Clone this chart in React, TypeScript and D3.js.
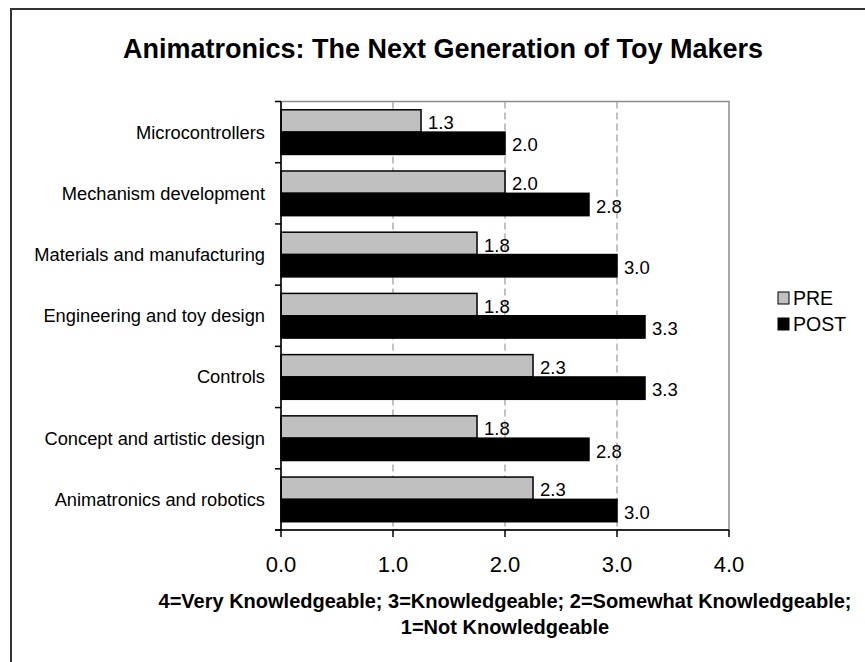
import React from "react";
import * as d3 from "d3";

const categories = [
  "Microcontrollers",
  "Mechanism development",
  "Materials and manufacturing",
  "Engineering and toy design",
  "Controls",
  "Concept and artistic design",
  "Animatronics and robotics",
];
const preValues = [1.25, 2.0, 1.75, 1.75, 2.25, 1.75, 2.25];
const postValues = [2.0, 2.75, 3.0, 3.25, 3.25, 2.75, 3.0];
const seriesNames = ["PRE", "POST"];
const xTicks = [0, 1, 2, 3, 4];
const title = "Animatronics: The Next Generation of Toy Makers";
const footnote = [
  "4=Very Knowledgeable; 3=Knowledgeable; 2=Somewhat Knowledgeable;",
  "1=Not Knowledgeable",
];

const W = 865;
const H = 662;
const plot = { left: 281, right: 729, top: 101.5, bottom: 530 };
const FONT = "Arial, 'Liberation Sans', Helvetica, sans-serif";

export default function App() {
  const x = d3.scaleLinear().domain([0, 4]).range([plot.left, plot.right]);
  const y = d3
    .scaleBand<string>()
    .domain(categories)
    .range([plot.top, plot.bottom])
    .paddingInner(0)
    .paddingOuter(0);
  const band = y.bandwidth();
  const inner = d3
    .scaleBand<string>()
    .domain(seriesNames)
    .range([0, band])
    .paddingInner(0)
    .paddingOuter(0.37);
  const barH = inner.bandwidth();
  const fmt = d3.format(".1f");
  const fills: Record<string, string> = { PRE: "#c0c0c0", POST: "#000000" };

  return (
    <svg
      width={W}
      height={H}
      style={{ position: "absolute", left: 0, top: 0, background: "#fff" }}
      fontFamily={FONT}
    >
      <rect x={11} y={9} width={W + 20} height={H + 20} fill="#fff" stroke="#333" strokeWidth={2} />
      <text x={443} y={58} textAnchor="middle" fontSize={27} fontWeight="bold">
        {title}
      </text>
      {/* plot border */}
      <rect
        x={plot.left}
        y={plot.top}
        width={plot.right - plot.left}
        height={plot.bottom - plot.top}
        fill="none"
        stroke="#8c8c8c"
        strokeWidth={1.5}
      />
      {/* gridlines */}
      {xTicks
        .filter((t) => t > 0 && t < 4)
        .map((t) => (
          <line
            key={"g" + t}
            x1={x(t)}
            x2={x(t)}
            y1={plot.top}
            y2={plot.bottom}
            stroke="#999"
            strokeWidth={1.2}
            strokeDasharray="7,4"
          />
        ))}
      {/* bars */}
      {categories.map((c, i) => {
        const y0 = y(c)!;
        const vals = [preValues[i], postValues[i]];
        return (
          <g key={c}>
            {seriesNames.map((s, j) => {
              const by = y0 + inner(s)!;
              const v = vals[j];
              return (
                <g key={s}>
                  <rect
                    x={x(0)}
                    y={by}
                    width={x(v) - x(0)}
                    height={barH}
                    fill={fills[s]}
                    stroke="#000"
                    strokeWidth={1.5}
                  />
                  <text x={x(v) + 7} y={by + barH - 3} fontSize={18.5}>
                    {fmt(v)}
                  </text>
                </g>
              );
            })}
            <text
              x={265}
              y={y0 + band / 2 + 6.5}
              textAnchor="end"
              fontSize={18.3}
            >
              {c}
            </text>
          </g>
        );
      })}
      {/* y axis */}
      <line x1={plot.left} x2={plot.left} y1={plot.top} y2={plot.bottom} stroke="#000" strokeWidth={1.5} />
      {d3.range(categories.length + 1).map((k) => {
        const ty = plot.top + k * band;
        return <line key={"yt" + k} x1={plot.left - 6} x2={plot.left} y1={ty} y2={ty} stroke="#000" strokeWidth={1.5} />;
      })}
      {/* x axis */}
      <line x1={plot.left - 6} x2={plot.right} y1={plot.bottom} y2={plot.bottom} stroke="#000" strokeWidth={1.5} />
      {xTicks.map((t) => (
        <g key={"xt" + t}>
          <line x1={x(t)} x2={x(t)} y1={plot.bottom} y2={plot.bottom + 7} stroke="#000" strokeWidth={1.5} />
          <text x={x(t)} y={572} textAnchor="middle" fontSize={22}>
            {fmt(t)}
          </text>
        </g>
      ))}
      {/* footnote */}
      {footnote.map((line, i) => (
        <text key={i} x={505} y={608 + i * 26} textAnchor="middle" fontSize={20} fontWeight="bold">
          {line}
        </text>
      ))}
      {/* legend */}
      {seriesNames.map((s, i) => (
        <g key={"lg" + s}>
          <rect x={778} y={292 + i * 26} width={11} height={12} fill={fills[s]} stroke="#000" strokeWidth={1} />
          <text x={793} y={305 + i * 26} fontSize={19.5}>
            {s}
          </text>
        </g>
      ))}
    </svg>
  );
}
